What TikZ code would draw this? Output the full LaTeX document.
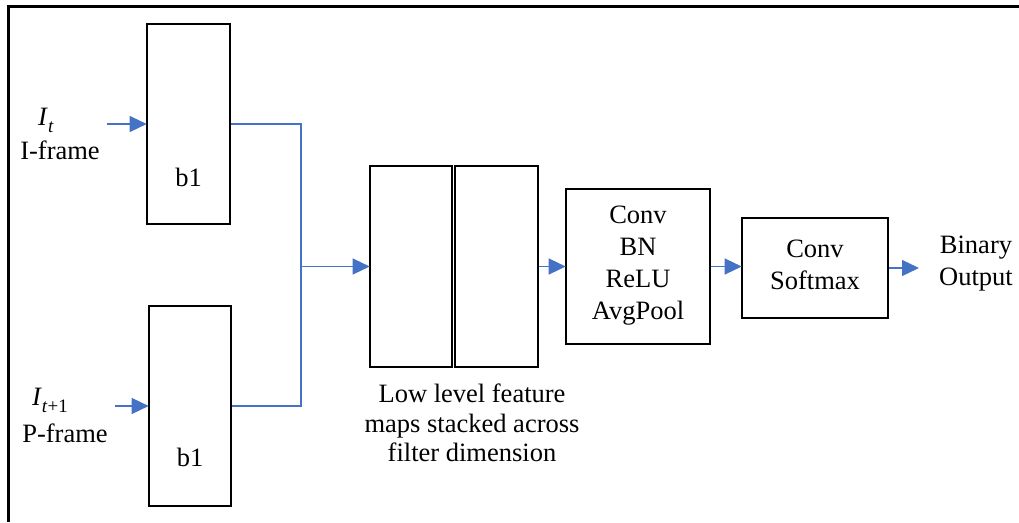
\documentclass[tikz,border=0pt]{standalone}
\usepackage{fontspec}
\setmainfont{Liberation Serif}
\usetikzlibrary{arrows.meta}
\definecolor{flowblue}{HTML}{4472C4}
\newcommand{\frameidx}[1]{\textit{I}\raisebox{-0.28em}{\fontsize{19}{19}\selectfont #1}}
\tikzset{
  block/.style={draw=black, line width=2.6pt, inner sep=0pt, minimum width=#1},
  flow/.style={draw=flowblue, line width=1.3pt},
  flowarrow/.style={flow, -{Triangle[length=17pt,width=16pt]}, shorten >=-1pt},
  txt/.style={font=\fontsize{26.5}{32}\selectfont, align=center, inner sep=0pt},
}
\begin{document}
\begin{tikzpicture}[x=1pt,y=-1pt]
\useasboundingbox (0,0) rectangle (1019,522);
% open frame (top and left sides)
\draw[line width=3pt] (1019,6) -- (8.5,6) -- (8.5,522);

% encoder branches
\node[block=83pt, minimum height=200pt] (btop) at (188.5,124) {};
\node[block=82pt, minimum height=200pt] (bbot) at (190,406) {};
\node[txt] (ltop) at (188.5,177) {b1};
\node[txt] (lbot) at (190,457) {b1};

% inputs
\node[txt, anchor=base] (it) at (46,125) {\frameidx{\textit{t}}};
\node[txt, anchor=base] (iframe) at (60,159) {I-frame};
\node[txt, anchor=base] (itt) at (50,405) {\frameidx{\textit{t}+1}};
\node[txt, anchor=base] (pframe) at (65,442) {P-frame};
\coordinate (inA) at (107,124);
\coordinate (inB) at (115,406);
\draw[flowarrow] (inA) -- (btop.west);
\draw[flowarrow] (inB) -- (bbot.west);

% stacked feature maps
\node[block=82pt, minimum height=201pt] (fa) at (411,266.5) {};
\node[block=83pt, minimum height=201pt] (fb) at (496.5,266.5) {};
\node[txt, anchor=base] (cap1) at (472,402) {Low level feature};
\node[txt, anchor=base] (cap2) at (472,432) {maps stacked across};
\node[txt, anchor=base] (cap3) at (472,461) {filter dimension};

% merge of the two branches
\coordinate (mtop) at (301,124);
\coordinate (mbot) at (301,406);
\coordinate (mmid) at (301,266.5);
\draw[flow] (btop.east) -- (mtop) -- (mbot) -- (bbot.east);
\draw[flowarrow] (mmid) -- (fa.west);

% head
\node[block=144pt, minimum height=155pt] (conv) at (638,266.5) {};
\node[txt] (convtxt) at (638,266) {Conv\\BN\\ReLU\\AvgPool};
\node[block=146pt, minimum height=100pt] (soft) at (815,268) {};
\node[txt] (softtxt) at (815,265) {Conv\\Softmax};
\node[txt] (out) at (976,264) {Binary\\Output};
\coordinate (outA) at (918,268);

\draw[flowarrow] (fb.east) -- (conv.west);
\draw[flowarrow] (conv.east) -- (soft.west |- conv.east);
\draw[flowarrow] (soft.east) -- (outA);
\end{tikzpicture}
\end{document}
